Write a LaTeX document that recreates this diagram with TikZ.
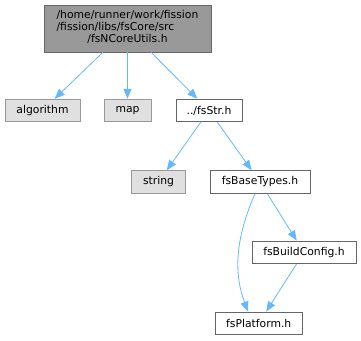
\documentclass[tikz,border=0pt]{standalone}
\usepackage{fontspec}
\setmainfont{DejaVu Sans}
\usepackage{xcolor}
\usetikzlibrary{arrows.meta, positioning, calc}

\definecolor{edgeblue}{HTML}{63B8FF}
\definecolor{boxline}{HTML}{666666}
\definecolor{sysline}{HTML}{999999}
\definecolor{sysfill}{HTML}{E0E0E0}
\definecolor{topfill}{HTML}{999999}

\begin{document}
\begin{tikzpicture}[
    x=1pt, y=-1pt,
    >={Triangle[length=10pt, width=8pt]},
    every node/.style={font=\fontsize{10.8}{12}\selectfont, inner sep=0pt},
    filebox/.style={draw=boxline, fill=white, line width=0.9pt, minimum height=22.6pt},
    sysbox/.style={draw=sysline, fill=sysfill, line width=0.9pt, minimum height=22.6pt},
    dep/.style={->, edgeblue, line width=0.8pt},
]
    \useasboundingbox (0,0) rectangle (361,340);

    % ── Header being documented ──────────────────
    \node[draw=boxline, fill=topfill, line width=0.9pt,
          minimum width=167pt, minimum height=47pt] (utils) at (127.5,28.5)
        {\begin{tabular}{@{}l@{}}/home/runner/work/fission\\/fission/libs/fsCore/src\\
         \multicolumn{1}{@{}c@{}}{/fsNCoreUtils.h}\end{tabular}};

    % ── First level includes ─────────────────────
    \node[sysbox, minimum width=75pt] (algorithm) at (42.5,110.5) {algorithm};
    \node[sysbox, minimum width=47pt] (map) at (127.5,110.5) {map};
    \node[filebox, minimum width=66pt] (fsstr) at (209,110.5) {../fsStr.h};

    % ── Second level ─────────────────────────────
    \node[sysbox, minimum width=53.6pt] (string) at (158.5,182) {string};
    \node[filebox, minimum width=100pt] (basetypes) at (260,182) {fsBaseTypes.h};

    % ── Config and platform ──────────────────────
    \node[filebox, minimum width=104pt] (buildcfg) at (304,252.3) {fsBuildConfig.h};
    \node[filebox, minimum width=87pt] (platform) at (258.7,323.3) {fsPlatform.h};

    % ── Include edges ────────────────────────────
    \draw[dep] (utils) -- (algorithm);
    \draw[dep] (utils) -- (map);
    \draw[dep] (utils) -- (fsstr);
    \draw[dep] (fsstr) -- (string);
    \draw[dep] (fsstr) -- (basetypes);
    \draw[dep] (basetypes) -- (buildcfg);
    \draw[dep] (buildcfg) -- (platform);
    \draw[dep] ([xshift=-5pt]basetypes.south)
        .. controls +(-23,52) and +(-12,-32) .. ([xshift=-10.7pt]platform.north);
\end{tikzpicture}
\end{document}
